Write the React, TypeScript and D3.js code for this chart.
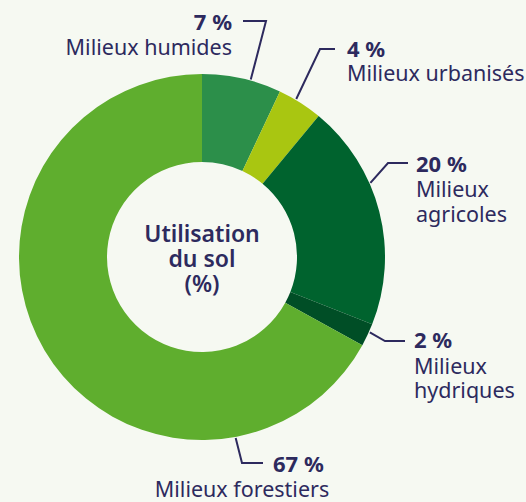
import * as d3 from "d3";

const CATEGORIES = ["Milieux humides", "Milieux urbanisés", "Milieux agricoles", "Milieux hydriques", "Milieux forestiers"];
const VALUES = [7, 4, 20, 2, 67];
const COLORS = ["#2c8f4a", "#a9c611", "#00632e", "#004e26", "#5fae2e"];
// how each label breaks into lines
const NAME_LINES = [["Milieux humides"], ["Milieux urbanisés"], ["Milieux", "agricoles"], ["Milieux", "hydriques"], ["Milieux forestiers"]];
const CENTER_TITLE = ["Utilisation", "du sol", "(%)"];

const W = 526;
const H = 502;
const CX = 202;
const CY = 257;
const R_OUT = 183;
const R_IN = 95;
const INK = "#2d2a5e";
const BG = "#f6f9f2";

// leader / label placement: where on the slice the line starts, elbow, end, text
const LAYOUT = [
  { frac: 0.61, elbow: [266, 21], end: [243, 21], tx: 232, anchor: "end", pctY: 30, nameY: [55] },
  { frac: 0.39, elbow: [320, 49], end: [335, 49], tx: 347, anchor: "start", pctY: 57, nameY: [81] },
  { frac: 0.37, elbow: [388, 163], end: [408, 163], tx: 416, anchor: "start", pctY: 172, nameY: [197, 222] },
  { frac: 0.36, elbow: [385, 341], end: [405, 341], tx: 414, anchor: "start", pctY: 348, nameY: [374, 398] },
  { frac: 0.21, elbow: [242, 463], end: [263, 463], tx: 273, anchor: "start", pctY: 472, nameY: [497], nameX: 242, nameAnchor: "middle" },
];

export default function App() {
  const data = CATEGORIES.map((c, i) => ({ name: c, value: VALUES[i], color: COLORS[i] }));
  const pie = d3.pie<any>().sort(null).value((d) => d.value);
  const arcs = pie(data);
  const arc = d3.arc<any>().innerRadius(R_IN).outerRadius(R_OUT);

  return (
    <svg width={W} height={H} style={{ position: "absolute", left: 0, top: 0 }}
      fontFamily="'Noto Sans', sans-serif">
      <rect width={W} height={H} fill={BG} />
      <g transform={`translate(${CX},${CY})`}>
        {arcs.map((a, i) => (
          <path key={i} d={arc(a) || ""} fill={a.data.color} />
        ))}
      </g>

      {/* centre title */}
      {CENTER_TITLE.map((t, i) => (
        <text key={t} x={CX} y={242 + i * 25} textAnchor="middle" fontSize={23}
          fontWeight={600} fill={INK}>{t}</text>
      ))}

      {/* leaders and labels */}
      {arcs.map((a, i) => {
        const L: any = LAYOUT[i];
        const ang = a.startAngle + (a.endAngle - a.startAngle) * L.frac;
        const r = R_OUT + 1;
        const sx = CX + r * Math.sin(ang);
        const sy = CY - r * Math.cos(ang);
        const line = d3.line()([[sx, sy], L.elbow, L.end]);
        return (
          <g key={i}>
            <path d={line || ""} fill="none" stroke={INK} strokeWidth={2} />
            <text x={L.tx} y={L.pctY} textAnchor={L.anchor} fontSize={22}
              fontWeight={700} fill={INK}>{a.data.value} %</text>
            {NAME_LINES[i].map((n, j) => (
              <text key={j} x={L.nameX ?? L.tx} y={L.nameY[j]}
                textAnchor={L.nameAnchor ?? L.anchor} fontSize={21.5} fill={INK}>{n}</text>
            ))}
          </g>
        );
      })}
    </svg>
  );
}
